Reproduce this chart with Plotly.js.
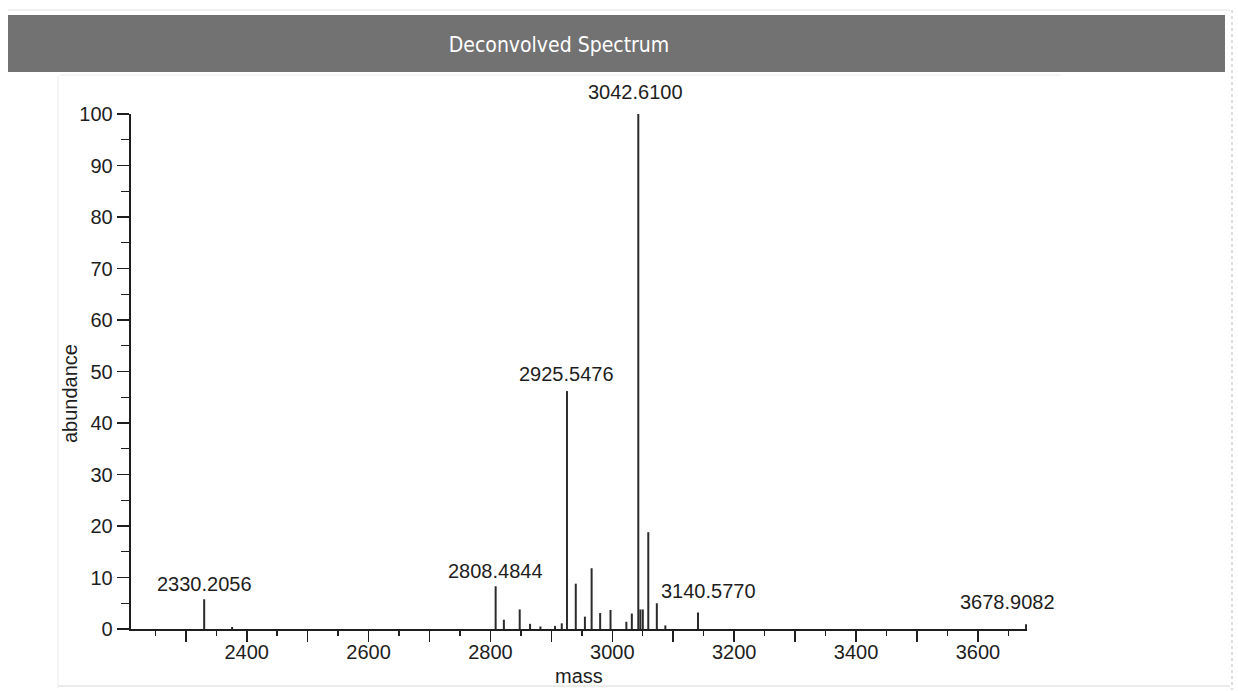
<!DOCTYPE html>
<html>
<head>
<meta charset="utf-8">
<script src="https://cdn.plot.ly/plotly-3.0.1.min.js"></script>
<style>
  html, body { margin: 0; padding: 0; background: #ffffff; }
  #chart { width: 1238px; height: 691px; }
</style>
</head>
<body>
<div id="chart"></div>
<script>
// ---- data ----
const peakMass = [2330.2056, 2376, 2808.4844, 2822, 2848, 2865, 2882, 2906, 2917, 2925.5476, 2940, 2955, 2966,
                  2980, 2997, 3023, 3032, 3042.6100, 3046, 3050, 3059, 3073, 3087, 3140.5770, 3678.9082];
const peakAbundance = [5.8, 0.4, 8.3, 1.8, 3.8, 1.0, 0.5, 0.6, 1.1, 46.2, 8.8, 2.4, 11.8,
                       3.1, 3.7, 1.4, 3.0, 100, 3.8, 3.8, 18.8, 5.0, 0.7, 3.2, 0.9];
const labelledMass = [2330.2056, 2808.4844, 2925.5476, 3042.6100, 3140.5770, 3678.9082];
const xTickValues = [2400, 2600, 2800, 3000, 3200, 3400, 3600];
const yTickValues = [0, 10, 20, 30, 40, 50, 60, 70, 80, 90, 100];
const chartTitle = "Deconvolved Spectrum";
const xTitle = "mass";
const yTitle = "abundance";

// ---- layout helpers (pixel -> paper) ----
const W = 1238, H = 691;
const px = v => v / W;
const py = v => 1 - v / H;

// label offsets (styling only)
const labelShift = {
  "2925.5476": {x: 0, y: 2},
  "3042.6100": {x: -3, y: 7},
  "3140.5770": {x: 10, y: 7},
  "3678.9082": {x: -19, y: 7}
};

// stick spectrum built from the arrays
const sx = [], sy = [];
peakMass.forEach((m, i) => { sx.push(m, m, null); sy.push(0, peakAbundance[i], null); });

const textColor = "#1e1e1e";
const font = "Arial, 'Liberation Sans', sans-serif";

const annotations = labelledMass.map(m => {
  const i = peakMass.indexOf(m);
  const key = m.toFixed(4);
  const sh = labelShift[key] || {x: 0, y: 0};
  return {
    x: m, y: peakAbundance[i], xref: "x", yref: "y",
    text: key, showarrow: false, xanchor: "center", yanchor: "bottom",
    xshift: sh.x, yshift: 2 + sh.y,
    font: {family: font, size: 20, color: textColor}
  };
});
annotations.push({
  xref: "paper", yref: "paper", x: px(70), y: py(394), text: yTitle, textangle: -90,
  showarrow: false, xanchor: "center", yanchor: "middle",
  font: {family: font, size: 20, color: textColor}
});
annotations.push({
  xref: "paper", yref: "paper", x: px(579), y: py(676), text: xTitle,
  showarrow: false, xanchor: "center", yanchor: "middle",
  font: {family: font, size: 20, color: textColor}
});

const shapes = [
  // title bar
  {type: "rect", xref: "paper", yref: "paper", x0: px(8), x1: px(1225), y0: py(72), y1: py(15),
   fillcolor: "#727272", line: {width: 0}, layer: "below"},
  // faint panel borders
  {type: "line", xref: "paper", yref: "paper", x0: px(8), x1: px(1230), y0: py(10), y1: py(10),
   line: {color: "#e4e4e4", width: 1}},
  {type: "line", xref: "paper", yref: "paper", x0: px(58), x1: px(58), y0: py(76), y1: py(688),
   line: {color: "#ececec", width: 1}},
  {type: "line", xref: "paper", yref: "paper", x0: px(58), x1: px(1230), y0: py(686), y1: py(686),
   line: {color: "#d8d8d8", width: 1}},
  {type: "line", xref: "paper", yref: "paper", x0: px(1232), x1: px(1232), y0: py(10), y1: py(690),
   line: {color: "#bdbdbd", width: 1, dash: "dot"}},
  {type: "line", xref: "paper", yref: "paper", x0: px(60), x1: px(1060), y0: py(75), y1: py(75),
   line: {color: "#ececec", width: 1}}
];

const trace = {
  type: "scatter", mode: "lines", x: sx, y: sy,
  line: {color: "#2b2b2b", width: 2}, hoverinfo: "skip", showlegend: false
};

const layout = {
  width: W, height: H, autosize: false,
  margin: {l: 0, r: 0, t: 0, b: 0, pad: 0},
  paper_bgcolor: "#ffffff", plot_bgcolor: "#ffffff",
  showlegend: false,
  title: {
    text: chartTitle, x: px(559), y: py(45), xref: "paper", yref: "paper",
    xanchor: "center", yanchor: "middle",
    font: {family: "Tahoma, 'DejaVu Sans Condensed', 'DejaVu Sans', sans-serif", size: 21, color: "#ffffff"}
  },
  xaxis: {
    domain: [px(130.7), px(1027)],
    range: [2209.6, 3680.5],
    showgrid: false, zeroline: false,
    showline: true, linecolor: "#1e1e1e", linewidth: 2,
    ticks: "outside", tickmode: "linear", tick0: 2400, dtick: 100, ticklabelstep: 2,
    ticklen: 11, tickwidth: 1.6, tickcolor: "#1e1e1e",
    ticklabelstandoff: -7,
    minor: {dtick: 50, tick0: 2400, ticks: "outside", ticklen: 5, tickwidth: 1.4, tickcolor: "#1e1e1e", showgrid: false},
    tickfont: {family: font, size: 20, color: textColor},
    fixedrange: true
  },
  yaxis: {
    domain: [py(629), py(114)],
    range: [0, 100],
    showgrid: false, zeroline: false,
    showline: true, linecolor: "#1e1e1e", linewidth: 2,
    ticks: "outside", tickmode: "array", tickvals: yTickValues,
    ticklen: 12, tickwidth: 1.6, tickcolor: "#1e1e1e",
    minor: {dtick: 5, ticks: "outside", ticklen: 8, tickwidth: 1.4, tickcolor: "#1e1e1e", showgrid: false},
    tickfont: {family: font, size: 20, color: textColor},
    fixedrange: true
  },
  annotations: annotations,
  shapes: shapes
};

Plotly.newPlot("chart", [trace], layout, {staticPlot: true, displayModeBar: false});
</script>
</body>
</html>
